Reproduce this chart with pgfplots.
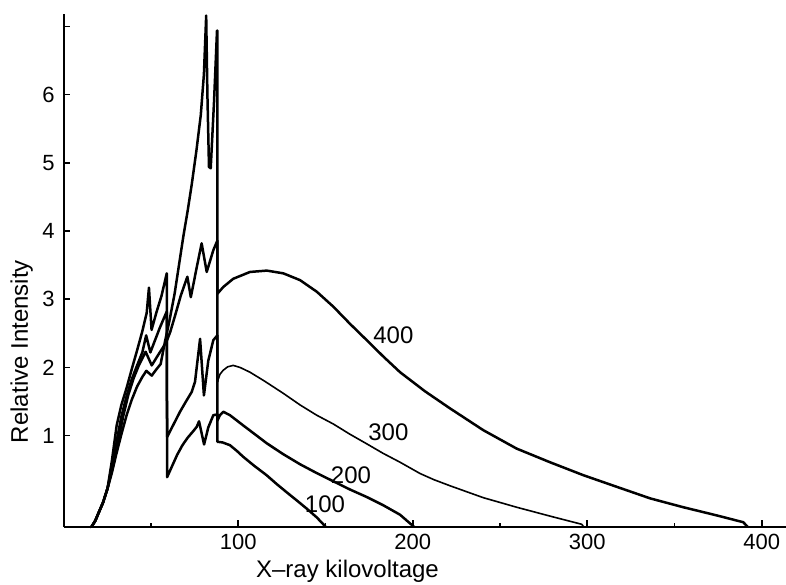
\documentclass[border=0pt]{standalone}
\usepackage{fontspec}
\setmainfont{Liberation Sans}
\usepackage{pgfplots}
\pgfplotsset{compat=1.18}

% Spectra for four tube voltages (kV); each drop is an absorption edge
\pgfplotstableread{
x y
15.8 -0.34
18 -0.25
20 -0.13
22.5 0.02
25 0.22
27.5 0.62
30.3 1.15
33 1.45
36 1.70
39 1.98
42 2.25
45 2.53
47.5 2.80
48.8 3.17
50.3 2.55
53 2.80
56 3.05
59.0 3.38
59.2 0.39
62 0.55
65 0.72
68 0.86
71 0.97
74 1.06
76.2 1.13
77.5 1.21
80.4 0.87
82.8 1.12
85.7 1.30
88 1.31
88 0.91
91 0.90
95.2 0.86
99 0.78
102.8 0.69
109 0.56
116.2 0.42
122 0.29
127.7 0.17
133.5 0.05
139.2 -0.07
145 -0.20
150.2 -0.34
}\kvA

\pgfplotstableread{
x y
15.8 -0.34
18 -0.25
20 -0.13
22.5 0.02
25 0.22
27 0.45
28.5 0.62
30.5 0.95
33 1.28
36 1.58
39 1.83
42 2.03
45 2.22
47.2 2.47
49.6 2.22
52 2.38
55 2.58
59.0 2.82
59.2 0.98
62 1.12
66.6 1.35
70 1.50
73.3 1.64
75.2 1.79
78.1 2.42
80.3 1.59
82.8 2.10
85.7 2.40
88 2.47
88 1.22
89.5 1.30
91.4 1.35
95.2 1.30
102.8 1.15
109 1.03
116.2 0.89
125 0.74
135.4 0.58
145 0.45
154.5 0.33
164 0.21
173.6 0.10
183 -0.02
192.7 -0.16
200.8 -0.34
}\kvB

\pgfplotstableread{
x y
15.8 -0.34
18 -0.25
20 -0.13
22.5 0.02
25 0.22
27 0.43
28.5 0.58
31 0.90
34 1.28
37 1.60
40 1.84
43 2.03
46.9 2.23
50.4 2.03
54 2.18
57 2.30
59.2 2.40
61 2.52
64 2.78
67 3.05
70.8 3.33
72.8 3.03
76.2 3.47
79 3.82
81.9 3.40
85.7 3.72
88 3.86
88 1.79
}\kvCa

\pgfplotstableread{
x y
88 1.79
89.5 1.90
91.4 1.96
94 2.01
97.1 2.03
101 2.00
106.7 1.93
115 1.80
125.8 1.62
135.4 1.45
144.9 1.30
154.5 1.17
164 1.02
173.6 0.88
183 0.74
192.7 0.61
204.1 0.445
212 0.355
221.3 0.265
240.4 0.09
259.5 -0.05
278.6 -0.18
296.8 -0.30
298 -0.34
}\kvCb

\pgfplotstableread{
x y
15.8 -0.34
18 -0.25
20 -0.13
22.5 0.02
25 0.22
27.5 0.45
30 0.72
33 1.02
36 1.30
39 1.53
42 1.72
45 1.86
47.3 1.95
50.4 1.88
53 1.97
55.5 2.05
58 2.38
60.5 2.68
63.5 3.08
66 3.50
68.5 3.92
71 4.30
73.3 4.68
76 5.18
78.5 5.70
80.3 6.30
81.6 7.16
82.3 6.00
83.2 4.94
84.2 4.92
86.1 5.90
87.8 6.94
88 6.94
88 3.08
91.4 3.18
97.1 3.30
106.7 3.40
116.3 3.42
125.8 3.38
135.4 3.28
145 3.11
154.5 2.89
164 2.64
173.6 2.40
183.1 2.16
192.7 1.93
207 1.65
221.3 1.40
240.4 1.08
259.5 0.81
278.6 0.61
297.7 0.42
316.8 0.25
336 0.08
355 -0.05
374.2 -0.17
389.4 -0.27
392 -0.34
}\kvD

\begin{document}
\begin{tikzpicture}
\begin{axis}[
  at={(0,0)}, anchor=south west,
  scale only axis,
  width=361.2pt, height=256.4pt,
  xmin=0, xmax=414,
  ymin=-0.34, ymax=7.18,
  axis x line=bottom, axis y line=left,
  axis line style={-, line width=1pt},
  clip=false,
  tick align=inside,
  major tick length=3.3pt,
  minor tick length=2pt,
  tick style={black, line width=0.8pt},
  xtick={100,200,300,400},
  minor xtick={50,150,250,350},
  ytick={1,2,3,4,5,6},
  extra y ticks={7},
  extra y tick labels={},
  /pgf/number format/assume math mode=true,
  tick label style={font=\fontsize{11}{13}\selectfont},
  yticklabel style={xshift=-1pt},
  xlabel={X–ray kilovoltage},
  ylabel={Relative Intensity},
  label style={font=\fontsize{12}{14}\selectfont},
  xlabel style={at={(axis description cs:0.3927,-0.0643)}, anchor=north, inner sep=0pt},
  ylabel style={at={(axis description cs:-0.0496,0.342)}, anchor=base, rotate=0},
  spec/.style={black, no markers, line width=1.25pt, line join=round, line cap=round},
]
\addplot[spec] table {\kvA};
\addplot[spec] table {\kvB};
\addplot[spec] table {\kvCa};
\addplot[spec, line width=0.8pt] table {\kvCb};
\addplot[spec] table {\kvD};

\node[font=\fontsize{12}{14}\selectfont, inner sep=0pt] at (axis cs:188.9,2.47) {400};
\node[font=\fontsize{12}{14}\selectfont, inner sep=0pt] at (axis cs:186.0,1.05) {300};
\node[font=\fontsize{12}{14}\selectfont, inner sep=0pt] at (axis cs:164.6,0.425) {200};
\node[font=\fontsize{12}{14}\selectfont, inner sep=0pt] at (axis cs:149.7,0.0) {100};
\end{axis}
\pgfresetboundingbox
\path[use as bounding box] (-31.9pt,-28.5pt) rectangle (361.1pt,263.5pt);
\end{tikzpicture}
\end{document}
